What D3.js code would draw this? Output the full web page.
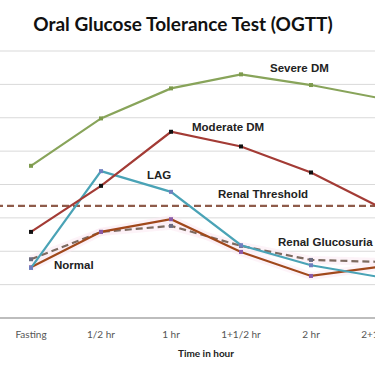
<!DOCTYPE html>
<html>
<head>
<meta charset="utf-8">
<script src="https://cdn.jsdelivr.net/npm/d3@7"></script>
<style>
  body { margin: 0; background: #fff; }
  svg { display: block; }
  .grid line { stroke: #d9d9d9; stroke-width: 1; }
  .tick-label { font-family: Lato, "Open Sans", sans-serif; font-size: 10px; fill: #555; }
  .series-label { font-family: "Liberation Sans", Arial, sans-serif; font-size: 11.5px; font-weight: bold; fill: #222; }
</style>
</head>
<body>
<div id="chart"></div>
<script>
// categories and readings (mg/dL)
const times = ['Fasting', '1/2 hr', '1 hr', '1+1/2 hr', '2 hr', '2+1/2 hr'];
const severeDM = [228, 299, 344, 365, 349, 329];
const moderateDM = [129, 198, 279, 257, 218, 165];
const lag = [75, 220, 189, 109, 79, 61];
const normal = [76, 129, 148, 99, 63, 77];
const renalGlucosuria = [88, 129, 138, 108, 87, 84];
const renalThreshold = 168;
const yTicks = [0, 50, 100, 150, 200, 250, 300, 350, 400];

const width = 375, height = 375;
// plot area is wider than the window, the right side gets cut off
const plot = { left: -4, right: 416, top: 51, bottom: 318 };

const svg = d3.select('#chart').append('svg')
    .attr('width', width)
    .attr('height', height);

svg.append('text')
    .attr('x', 183)
    .attr('y', 31)
    .attr('text-anchor', 'middle')
    .style('font-family', 'Lato, "Open Sans", sans-serif')
    .style('font-size', '19px')
    .style('font-weight', 'bold')
    .style('fill', '#111')
    .text('Oral Glucose Tolerance Test (OGTT)');

let x = d3.scaleBand().domain(times).range([plot.left, plot.right]);
let xc = d => x(d) + x.bandwidth() / 2;
let y = d3.scaleLinear().domain([0, 400]).range([plot.bottom, plot.top]);

// gridlines
svg.append('g').attr('class', 'grid')
    .selectAll('line')
    .data(yTicks.slice(1))
    .enter().append('line')
    .attr('x1', plot.left).attr('x2', plot.right)
    .attr('y1', d => y(d)).attr('y2', d => y(d));

// x axis line
svg.append('line')
    .attr('x1', plot.left).attr('x2', plot.right)
    .attr('y1', y(0)).attr('y2', y(0))
    .attr('stroke', '#bdbdbd').attr('stroke-width', 2);

svg.selectAll('.tick-label')
    .data(times)
    .enter().append('text')
    .attr('class', 'tick-label')
    .attr('x', d => xc(d))
    .attr('y', 338)
    .attr('text-anchor', 'middle')
    .text(d => d);

svg.append('text')
    .attr('x', (plot.left + plot.right) / 2)
    .attr('y', 357)
    .attr('text-anchor', 'middle')
    .style('font-family', 'Lato, "Open Sans", sans-serif')
    .style('font-size', '10px')
    .style('font-weight', 'bold')
    .style('fill', '#222')
    .text('Time in hour');

let line = d3.line()
    .x((d, i) => xc(times[i]))
    .y(d => y(d));

// renal threshold
svg.append('line')
    .attr('x1', plot.left).attr('x2', plot.right)
    .attr('y1', y(renalThreshold)).attr('y2', y(renalThreshold))
    .attr('stroke', '#8e5b4a').attr('stroke-width', 2.2)
    .attr('stroke-dasharray', '7,4');

let series = [
    { name: 'Renal Glucosuria', values: renalGlucosuria, color: '#7d6a60', dash: '7,4', marker: '#6b6b80' },
    { name: 'Normal', values: normal, color: '#a0481b', dash: null, marker: '#8a5aa6' },
    { name: 'LAG', values: lag, color: '#4aa3b6', dash: null, marker: '#6f7fbf' },
    { name: 'Moderate DM', values: moderateDM, color: '#a33b35', dash: null, marker: '#111' },
    { name: 'Severe DM', values: severeDM, color: '#88a45a', dash: null, marker: '#7d9a4c' }
];

// faint pink glow behind the lower lines
['Renal Glucosuria', 'Normal'].forEach(n => {
    let s = series.find(d => d.name === n);
    svg.append('path')
        .datum(s.values)
        .attr('d', line)
        .attr('fill', 'none')
        .attr('stroke', '#fcebf4')
        .attr('stroke-width', 8)
        .attr('opacity', 0.6);
});

series.forEach(s => {
    svg.append('path')
        .datum(s.values)
        .attr('d', line)
        .attr('fill', 'none')
        .attr('stroke', s.color)
        .attr('stroke-width', 2.2)
        .attr('stroke-dasharray', s.dash);

    svg.append('g')
        .selectAll('rect')
        .data(s.values)
        .enter().append('rect')
        .attr('x', (d, i) => xc(times[i]) - 2)
        .attr('y', d => y(d) - 2)
        .attr('width', 4)
        .attr('height', 4)
        .attr('fill', s.marker);
});

// series labels
let labels = [
    { text: 'Severe DM', x: 270, y: 72 },
    { text: 'Moderate DM', x: 192, y: 131 },
    { text: 'LAG', x: 147, y: 179 },
    { text: 'Renal Threshold', x: 218, y: 198 },
    { text: 'Renal Glucosuria', x: 278, y: 246 },
    { text: 'Normal', x: 54, y: 269 }
];
svg.selectAll('.series-label')
    .data(labels)
    .enter().append('text')
    .attr('class', 'series-label')
    .attr('x', d => d.x)
    .attr('y', d => d.y)
    .text(d => d.text);
</script>
</body>
</html>
